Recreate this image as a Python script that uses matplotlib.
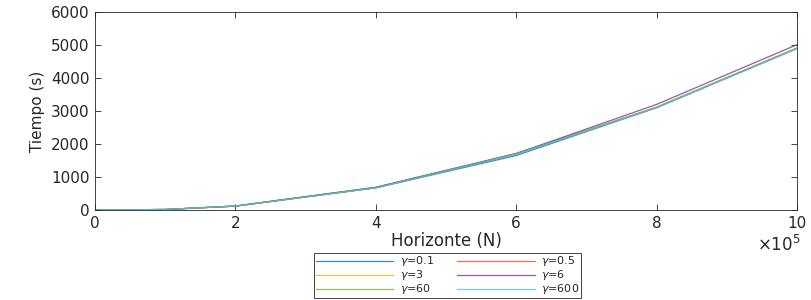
import matplotlib
matplotlib.use("Agg")
import matplotlib.pyplot as plt
from matplotlib.ticker import FuncFormatter, MultipleLocator

# Data
horizon = [0, 1e5, 2e5, 4e5, 6e5, 8e5, 10e5]
labels = [r'$\gamma$=0.1', r'$\gamma$=0.5', r'$\gamma$=3', r'$\gamma$=6', r'$\gamma$=60', r'$\gamma$=600']
t_g01 = [0, 15, 115, 670, 1650, 3100, 4900]
t_g05 = [0, 15, 120, 680, 1700, 3120, 4910]
t_g3 = [0, 15, 120, 685, 1720, 3110, 4900]
t_g6 = [0, 16, 122, 690, 1710, 3200, 5010]
t_g60 = [0, 15, 118, 675, 1700, 3100, 4890]
t_g600 = [0, 15, 118, 672, 1690, 3110, 4900]
series = [t_g01, t_g05, t_g3, t_g6, t_g60, t_g600]
colors = ['#0072BD', '#D95319', '#EDB120', '#7E2F8E', '#77AC30', '#4DBEEE']

plt.rcParams['font.family'] = ['DejaVu Sans']
plt.rcParams['mathtext.fontset'] = 'dejavusans'

fig = plt.figure(figsize=(8.11, 3.0), dpi=100)
ax = fig.add_axes([95/811, 1-210/300, (797-95)/811, (210-12)/300])

lines = []
for y, c, lab in zip(series, colors, labels):
    ln, = ax.plot(horizon, y, color=c, lw=0.9, alpha=0.8, label=lab)
    lines.append(ln)

ax.set_xlim(0, 10e5)
ax.set_ylim(0, 6000)
ax.xaxis.set_major_locator(MultipleLocator(2e5))
ax.yaxis.set_major_locator(MultipleLocator(1000))
ax.xaxis.set_major_formatter(FuncFormatter(lambda v, p: f'{v/1e5:g}'))
ax.tick_params(direction='in', top=True, right=True, length=4, width=0.6,
               labelsize=11, colors='#262626', pad=4)
for s in ax.spines.values():
    s.set_color('#262626')
    s.set_linewidth(0.6)

ax.set_xlabel('Horizonte (N)', fontsize=12, color='#262626', labelpad=1)
ax.set_ylabel('Tiempo (s)', fontsize=11, color='#262626', labelpad=4)
ax.text(1.005, -0.125, r'$\times10^{5}$', transform=ax.transAxes, ha='right', va='top',
        fontsize=12, color='#262626')

# row-major order like the reference
order = [0, 2, 4, 1, 3, 5]
leg = fig.legend([lines[i] for i in order], [labels[i] for i in order],
                 loc='center', bbox_to_anchor=(0.552, 0.082), ncol=2, fontsize=8,
                 handlelength=7.0, labelspacing=0.0, columnspacing=2.0,
                 handletextpad=0.6, borderpad=0.12, fancybox=False,
                 edgecolor='#262626', framealpha=1)
leg.get_frame().set_linewidth(0.6)
for t in leg.get_texts():
    t.set_color('#262626')

fig.savefig('out.png', dpi=100)
